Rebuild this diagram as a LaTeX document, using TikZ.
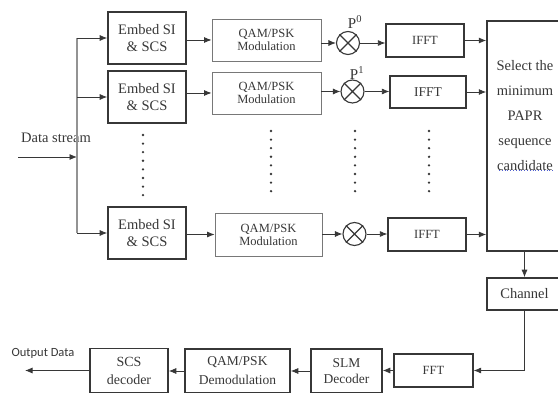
\documentclass[tikz,border=0pt]{standalone}
\usepackage{fontspec}
\setmainfont{Liberation Serif}
\newfontfamily\labelsans{Carlito}
\usetikzlibrary{arrows.meta,positioning,calc}
\definecolor{ink}{RGB}{55,55,55}
\definecolor{soft}{RGB}{120,120,120}
\definecolor{squig}{RGB}{80,95,205}
\tikzset{
  arr/.style={-{Latex[length=7.5pt,width=6pt]},line width=.8pt,draw=ink},
  busline/.style={line width=1.4pt,draw=soft!80},
  embbox/.style={draw=ink,line width=1.6pt,minimum width=78pt,minimum height=52pt,align=center,text=ink,font=\fontsize{14.5}{17}\selectfont},
  modbox/.style={draw=soft,line width=.9pt,minimum width=109pt,minimum height=42pt,align=center,text=ink,font=\fontsize{12.5}{13}\selectfont},
  fftbox/.style={draw=ink,line width=1.3pt,minimum width=78pt,minimum height=33pt,align=center,text=ink,font=\fontsize{12.5}{14}\selectfont},
  rxbox/.style={draw=ink,line width=1.5pt,minimum height=44pt,align=center,text=ink,font=\fontsize{14}{18}\selectfont},
  mult/.style={circle,draw=ink,line width=1.1pt,minimum size=23pt,inner sep=0pt},
  lab/.style={text=ink,font=\fontsize{14.5}{16}\selectfont},
  dotfill/.style={fill=ink}
}
\begin{document}
\begin{tikzpicture}[x=1pt,y=-1pt]
  \useasboundingbox (0,0) rectangle (558,393);
  \clip (0,0) rectangle (558,393);

  % transmitter branches
  \node[embbox] (emb1) at (147,38) {Embed SI\\\& SCS};
  \node[embbox] (emb2) at (147,97) {Embed SI\\\& SCS};
  \node[embbox] (emb3) at (147,233) {Embed SI\\\& SCS};

  \node[modbox] (qam1) at (266.5,40) {QAM/PSK\\Modulation};
  \node[modbox] (qam2) at (266.5,93) {QAM/PSK\\Modulation};
  \node[modbox,minimum width=107pt,minimum height=43pt] (qam3) at (268.5,234.5) {QAM/PSK\\Modulation};

  \node[mult] (mul1) at (348,43) {};
  \node[mult] (mul2) at (352.5,91.5) {};
  \node[mult] (mul3) at (354.5,234) {};
  \foreach \m in {mul1,mul2,mul3}{\draw[ink,line width=1.1pt] (\m.north west)--(\m.south east) (\m.north east)--(\m.south west);}
  \node[text=ink,font=\fontsize{15}{15}\selectfont] (p0) at (355,22) {P\textsuperscript{0}};
  \node[text=ink,font=\fontsize{15}{15}\selectfont] (p1) at (357,73) {P\textsuperscript{1}};

  \node[fftbox] (ifft1) at (425,40.5) {IFFT};
  \node[fftbox,minimum width=76pt,minimum height=32pt,font=\fontsize{13.5}{14}\selectfont] (ifft2) at (428,92) {IFFT};
  \node[fftbox] (ifft3) at (427,234.5) {IFFT};

  \node[draw=ink,line width=1.5pt,minimum width=75pt,minimum height=230pt] (sel) at (524.5,136) {};
  \node[lab,align=center,font=\fontsize{14.5}{25}\selectfont] (seltxt) at (525,116) {Select the\\minimum\\PAPR\\sequence\\candidate};
  \draw[squig,dotted,line width=.8pt] (seltxt.south west)++(6,-4) -- ($(seltxt.south east)+(-4,-4)$);

  \foreach \dx/\dy in {143/135,271/131,355/131,429/131}
    \foreach \k in {0,...,7}{\fill[dotfill] ({\dx},{\dy+8.6*\k}) circle (1.3pt);}

  % input bus
  \node[lab] (dstream) at (56,138) {Data stream};
  \coordinate (src) at (18,157);
  \coordinate (bus) at (77,157);
  \draw[arr] (src) -- (bus);
  \draw[busline] (emb1.west -| bus) -- (emb3.west -| bus);
  \foreach \i in {1,2,3}{
    \draw[arr] (emb\i.west -| bus) -- (emb\i.west);
    \draw[arr] (emb\i.east |- qam\i.west) -- (qam\i.west);
    \draw[arr] (qam\i.east |- mul\i.west) -- (mul\i.west);
    \draw[arr] (mul\i.east) -- (mul\i.east -| ifft\i.west);
    \draw[arr] (ifft\i.east) -- (ifft\i.east -| sel.west);
  }

  % channel and receiver
  \node[draw=ink,line width=1.5pt,minimum width=75pt,minimum height=32pt,lab] (chan) at (524.5,294) {Channel};
  \node[fftbox,minimum width=79pt] (fft) at (433.5,370.5) {FFT};
  \node[rxbox,minimum width=71pt,font=\fontsize{13.5}{16}\selectfont] (slm) at (346.5,371) {SLM\\Decoder};
  \node[rxbox,minimum width=105pt,font=\fontsize{13.5}{19}\selectfont] (demod) at (237.5,371) {QAM/PSK\\Demodulation};
  \node[rxbox,minimum width=78pt] (scs) at (129,370.5) {SCS\\decoder};
  \node[text=ink,font=\labelsans\fontsize{12.5}{14}\selectfont] (outlab) at (43,353) {Output Data};
  \coordinate (out) at (25,370.5);

  \draw[arr] (sel) -- (chan);
  \draw[arr] (chan.south) |- (fft.east);
  \draw[arr] (fft.west) -- (fft.west -| slm.east);
  \draw[arr] (slm.west) -- (slm.west -| demod.east);
  \draw[arr] (demod.west) -- (demod.west -| scs.east);
  \draw[arr] (scs.west) -- (out);
\end{tikzpicture}
\end{document}
